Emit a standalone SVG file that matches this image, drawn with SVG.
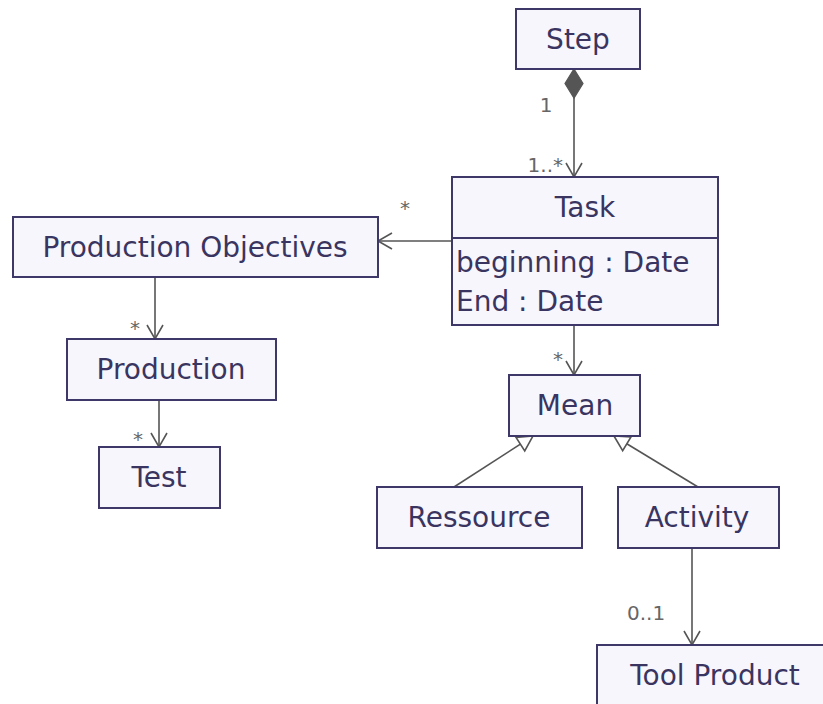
<svg xmlns="http://www.w3.org/2000/svg" width="823" height="704" viewBox="0 0 823 704">
<defs>
<style>
.box{fill:#f7f6fd;stroke:#3d3868;stroke-width:2}
.t{font-family:"DejaVu Sans",Verdana,sans-serif;font-size:28px;fill:#3a3560;text-anchor:middle}
.ta{font-family:"DejaVu Sans",Verdana,sans-serif;font-size:28px;fill:#3a3560}
.lbl{font-family:"DejaVu Sans",Verdana,sans-serif;font-size:20px;fill:#666}
.c{stroke:#555;stroke-width:1.6;fill:none}
</style>
<marker id="open" markerUnits="userSpaceOnUse" orient="auto" refX="0" refY="0" markerWidth="20" markerHeight="20" overflow="visible">
<path d="M-14,-8 L0,0 L-14,8" fill="none" stroke="#555" stroke-width="1.6"/>
</marker>
<marker id="diamond" markerUnits="userSpaceOnUse" orient="auto" refX="0" refY="0" markerWidth="30" markerHeight="20" overflow="visible">
<path d="M0,0 L14.5,-9 L29,0 L14.5,9 Z" fill="#555" stroke="#555" stroke-width="1.2"/>
</marker>
<marker id="tri" markerUnits="userSpaceOnUse" orient="auto" refX="0" refY="0" markerWidth="20" markerHeight="20" overflow="visible">
<path d="M0,0 L-15,-8 L-15,8 Z" fill="#fff" stroke="#555" stroke-width="1.6"/>
</marker>
</defs>
<rect width="823" height="704" fill="#fff"/>

<g id="connectors">
<line class="c" x1="574" y1="69" x2="574" y2="177" marker-start="url(#diamond)" marker-end="url(#open)"/>
<line class="c" x1="452" y1="241" x2="378" y2="241" marker-end="url(#open)"/>
<line class="c" x1="155" y1="277" x2="155" y2="339" marker-end="url(#open)"/>
<line class="c" x1="159" y1="400" x2="159" y2="447" marker-end="url(#open)"/>
<line class="c" x1="574" y1="325" x2="574" y2="375" marker-end="url(#open)"/>
<line class="c" x1="454" y1="487" x2="533" y2="436" marker-end="url(#tri)"/>
<line class="c" x1="698" y1="487" x2="614" y2="436" marker-end="url(#tri)"/>
<line class="c" x1="692" y1="548" x2="692" y2="645" marker-end="url(#open)"/>
<text class="lbl" x="546" y="112" text-anchor="middle">1</text>
<text class="lbl" x="563" y="172" text-anchor="end">1..*</text>
<text class="lbl" x="405" y="215" text-anchor="middle">*</text>
<text class="lbl" x="135" y="335" text-anchor="middle">*</text>
<text class="lbl" x="138" y="446" text-anchor="middle">*</text>
<text class="lbl" x="558" y="366" text-anchor="middle">*</text>
<text class="lbl" x="627" y="620">0..1</text>
</g>

<g id="step">
<rect class="box" x="516" y="9" width="124" height="60"/>
<text class="t" x="578" y="49">Step</text>
</g>
<g id="task">
<rect class="box" x="452" y="177" width="266" height="148"/>
<line x1="452" y1="238" x2="718" y2="238" stroke="#3d3868" stroke-width="2"/>
<text class="t" x="585" y="217">Task</text>
<text class="ta" x="456" y="272">beginning : Date</text>
<text class="ta" x="456" y="311">End : Date</text>
</g>
<g id="production-objectives">
<rect class="box" x="13" y="217" width="365" height="60"/>
<text class="t" x="195" y="257">Production Objectives</text>
</g>
<g id="production">
<rect class="box" x="67" y="339" width="209" height="61"/>
<text class="t" x="171" y="379">Production</text>
</g>
<g id="test">
<rect class="box" x="99" y="447" width="121" height="61"/>
<text class="t" x="159" y="487">Test</text>
</g>
<g id="mean">
<rect class="box" x="509" y="375" width="131" height="61"/>
<text class="t" x="575" y="415">Mean</text>
</g>
<g id="ressource">
<rect class="box" x="377" y="487" width="205" height="61"/>
<text class="t" x="479" y="527">Ressource</text>
</g>
<g id="activity">
<rect class="box" x="618" y="487" width="161" height="61"/>
<text class="t" x="697" y="527">Activity</text>
</g>
<g id="tool-product">
<rect class="box" x="597" y="645" width="240" height="70"/>
<text class="t" x="715" y="685">Tool Product</text>
</g>
</svg>
